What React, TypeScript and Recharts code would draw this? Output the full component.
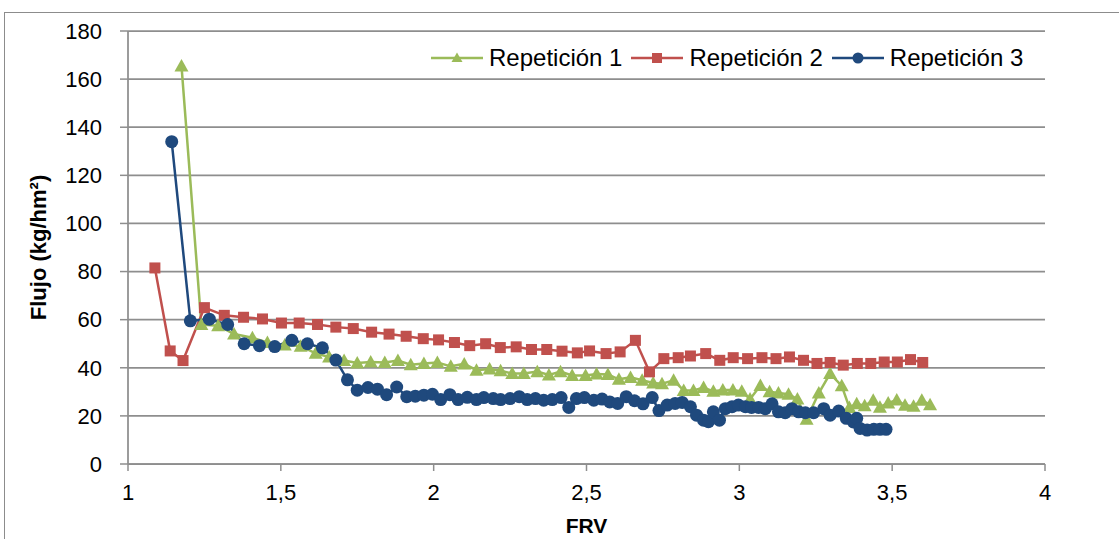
import { LineChart, Line, XAxis, YAxis, CartesianGrid, Legend } from 'recharts';

// Repetición 1 (green, triangles)
const rep1X = [
  1.175, 1.24, 1.295, 1.347, 1.407, 1.456, 1.513, 1.565, 1.614, 1.658, 1.707, 1.75, 1.794, 1.84,
  1.883, 1.925, 1.968, 2.012, 2.056, 2.1, 2.14, 2.183, 2.219, 2.257, 2.295, 2.339, 2.377, 2.415,
  2.453, 2.497, 2.533, 2.57, 2.606, 2.644, 2.682, 2.718, 2.747, 2.785, 2.818, 2.85, 2.883, 2.915,
  2.946, 2.979, 3.008, 3.035, 3.069, 3.099, 3.128, 3.161, 3.19, 3.22, 3.26, 3.297, 3.335, 3.36,
  3.384, 3.41, 3.438, 3.46, 3.487, 3.515, 3.542, 3.57, 3.597, 3.624,
];
const rep1Y = [
  165.5, 58, 57.5, 54, 52.5, 50.5, 49.5, 49, 46, 44.5, 43, 42, 42.4, 42.2,
  43, 41.3, 41.8, 42.2, 40.6, 41.6, 39, 39.5, 38.8, 37.6, 37.6, 38.4, 37, 38.4,
  36.8, 36.8, 37.4, 37.2, 35.2, 36, 34.8, 33.7, 33.4, 34.8, 30.6, 30.6, 31.8, 30.2,
  30.8, 30.8, 30.2, 27, 32.6, 30, 29.5, 29, 27, 18.6, 29.5, 37.6, 32.5, 23.5,
  25, 24.2, 26.5, 23.6, 25.4, 26.6, 24.4, 24, 26.5, 24.6,
];

// Repetición 2 (red, squares)
const rep2X = [
  1.088, 1.138, 1.18, 1.25, 1.315, 1.378, 1.44, 1.502, 1.56, 1.62, 1.68, 1.737, 1.797, 1.854,
  1.91, 1.966, 2.016, 2.068, 2.118, 2.17, 2.218, 2.27, 2.32, 2.37, 2.42, 2.47, 2.51, 2.564,
  2.61, 2.66, 2.706, 2.753, 2.8, 2.84, 2.89, 2.936, 2.98, 3.027, 3.074, 3.12, 3.164, 3.21,
  3.254, 3.297, 3.34, 3.386, 3.43, 3.474, 3.517, 3.56, 3.6,
];
const rep2Y = [
  81.5, 47, 43, 65, 61.8, 61, 60.3, 58.6, 58.6, 58, 56.9, 56.3, 54.8, 54,
  53.1, 52.1, 51.6, 50.5, 49.2, 50, 48.4, 48.7, 47.6, 47.6, 46.9, 46.2, 47, 45.9,
  46.6, 51.4, 38.3, 43.8, 44.2, 44.9, 45.9, 43.1, 44.2, 43.8, 44.2, 43.8, 44.5, 43.1,
  41.8, 42.2, 41.1, 41.8, 41.8, 42.4, 42.4, 43.4, 42.2,
];

// Repetición 3 (blue, circles)
const rep3X = [
  1.143, 1.204, 1.266, 1.326, 1.38, 1.43, 1.48, 1.536, 1.587, 1.636, 1.68, 1.718, 1.75, 1.785,
  1.816, 1.846, 1.879, 1.912, 1.94, 1.968, 1.996, 2.023, 2.053, 2.08, 2.11, 2.14, 2.164, 2.195,
  2.219, 2.25, 2.28, 2.306, 2.333, 2.36, 2.388, 2.417, 2.442, 2.467, 2.493, 2.524, 2.551, 2.576,
  2.602, 2.63, 2.657, 2.685, 2.715, 2.737, 2.764, 2.79, 2.813, 2.84, 2.86, 2.883, 2.899, 2.915,
  2.935, 2.954, 2.976, 2.997, 3.02, 3.04, 3.063, 3.085, 3.107, 3.128, 3.15, 3.172, 3.194, 3.216,
  3.243, 3.276, 3.297, 3.325, 3.35, 3.373, 3.384, 3.395, 3.418, 3.44, 3.46, 3.48,
];
const rep3Y = [
  134, 59.5, 60.2, 58, 50, 49.2, 48.8, 51.4, 50, 48.3, 43.2, 35, 30.7, 31.8,
  31.1, 28.8, 32, 28, 28.2, 28.6, 29, 26.8, 28.8, 26.8, 27.7, 26.8, 27.6, 27.2,
  26.8, 27.2, 28, 26.8, 27.2, 26.5, 26.8, 27.6, 23.5, 27.2, 27.6, 26.5, 27, 25.8,
  25.2, 28, 26.3, 25, 27.6, 22.2, 24.5, 25.2, 25.6, 23.8, 20.3, 18.2, 17.6, 21.7,
  18.2, 23, 23.8, 24.5, 23.8, 23.5, 23.5, 23, 25, 21.7, 21.3, 23, 21.7, 21.3,
  21.3, 23, 20.3, 22, 19, 17.5, 19, 14.8, 14.1, 14.4, 14.4, 14.4,
];

const seriesNames = ['Repetición 1', 'Repetición 2', 'Repetición 3'];
const xTicks = [1, 1.5, 2, 2.5, 3, 3.5, 4];
const yTicks = [0, 20, 40, 60, 80, 100, 120, 140, 160, 180];

const GREEN = '#9BBB59';
const RED = '#C0504D';
const BLUE = '#1F497D';
const GRID = '#8e8e8e';
const FONT = "'Liberation Sans', Arial, sans-serif";

const toPoints = (xs: number[], ys: number[]) => xs.map((x, i) => ({ x, y: ys[i] }));
const rep1 = toPoints(rep1X, rep1Y);
const rep2 = toPoints(rep2X, rep2Y);
const rep3 = toPoints(rep3X, rep3Y);

type Marker = 'triangle' | 'square' | 'circle';

function markerShape(kind: Marker, cx: number, cy: number, color: string, key?: string | number) {
  if (kind === 'triangle') {
    return (
      <polygon
        key={key}
        points={`${cx},${cy - 7} ${cx + 7},${cy + 5.5} ${cx - 7},${cy + 5.5}`}
        fill={color}
      />
    );
  }
  if (kind === 'square') {
    return <rect key={key} x={cx - 5.5} y={cy - 5.5} width={11} height={11} fill={color} />;
  }
  return <circle key={key} cx={cx} cy={cy} r={6.5} fill={color} />;
}

const makeDot = (kind: Marker, color: string) => (props: any) => {
  const { cx, cy, index } = props;
  if (cx == null || cy == null) return <g key={`e-${index}`} />;
  return markerShape(kind, cx, cy, color, `${kind}-${index}`);
};

const legendItems: { name: string; color: string; kind: Marker }[] = [
  { name: seriesNames[0], color: GREEN, kind: 'triangle' },
  { name: seriesNames[1], color: RED, kind: 'square' },
  { name: seriesNames[2], color: BLUE, kind: 'circle' },
];

function LegendContent() {
  return (
    <div style={{ display: 'flex', alignItems: 'center', fontFamily: FONT, fontSize: 24, color: '#000' }}>
      {legendItems.map((it) => (
        <div key={it.name} style={{ display: 'flex', alignItems: 'center', marginRight: 9 }}>
          <svg width={52} height={20}>
            <line x1={0} y1={10} x2={52} y2={10} stroke={it.color} strokeWidth={2.5} />
            {it.kind === 'triangle' && <polygon points="26,4.5 31.5,14 20.5,14" fill={it.color} />}
            {it.kind === 'square' && <rect x={21} y={5} width={10} height={10} fill={it.color} />}
            {it.kind === 'circle' && <circle cx={26} cy={10} r={5.5} fill={it.color} />}
          </svg>
          <span style={{ marginLeft: 6, whiteSpace: 'nowrap' }}>{it.name}</span>
        </div>
      ))}
    </div>
  );
}

export default function App() {
  return (
    <div
      style={{
        position: 'absolute',
        left: 0,
        top: 0,
        width: 1119,
        height: 539,
        background: '#fff',
        overflow: 'hidden',
      }}
    >
      <div
        style={{
          position: 'absolute',
          left: 4,
          top: 12,
          width: 1200,
          height: 600,
          border: '1px solid #8c8c8c',
        }}
      />
      <div style={{ position: 'absolute', left: 0, top: 0 }}>
        <LineChart width={1119} height={539} margin={{ top: 31, right: 74, left: 68, bottom: 5 }}>
          <CartesianGrid vertical={false} stroke={GRID} strokeWidth={1.75} />
          <XAxis
            type="number"
            dataKey="x"
            domain={[1, 4]}
            ticks={xTicks}
            allowDataOverflow
            height={70}
            tickSize={7}
            tickMargin={13}
            tickLine={{ stroke: GRID, strokeWidth: 1.5 }}
            axisLine={{ stroke: GRID, strokeWidth: 1.75 }}
            tick={{ fill: '#000', fontSize: 22, fontFamily: FONT }}
            tickFormatter={(v: number) => String(v).replace('.', ',')}
            label={{
              value: 'FRV',
              position: 'insideBottom',
              offset: 1,
              fill: '#000',
              fontSize: 21,
              fontWeight: 'bold',
              fontFamily: FONT,
            }}
          />
          <YAxis
            type="number"
            domain={[0, 180]}
            ticks={yTicks}
            width={60}
            tickSize={8}
            tickMargin={18}
            tickLine={{ stroke: GRID, strokeWidth: 1.5 }}
            axisLine={{ stroke: GRID, strokeWidth: 1.75 }}
            tick={{ fill: '#000', fontSize: 22, fontFamily: FONT }}
            label={{
              value: 'Flujo (kg/hm²)',
              angle: -90,
              position: 'center',
              dx: -60,
              fill: '#000',
              fontSize: 22,
              fontWeight: 'bold',
              fontFamily: FONT,
            }}
          />
          <Legend
            layout="horizontal"
            verticalAlign="middle"
            align="center"
            content={<LegendContent />}
            wrapperStyle={{ top: 44, left: 431, width: 'auto' }}
          />
          <Line
            data={rep1}
            dataKey="y"
            name={seriesNames[0]}
            stroke={GREEN}
            strokeWidth={2.5}
            dot={makeDot('triangle', GREEN)}
            activeDot={false}
            isAnimationActive={false}
          />
          <Line
            data={rep2}
            dataKey="y"
            name={seriesNames[1]}
            stroke={RED}
            strokeWidth={2.5}
            dot={makeDot('square', RED)}
            activeDot={false}
            isAnimationActive={false}
          />
          <Line
            data={rep3}
            dataKey="y"
            name={seriesNames[2]}
            stroke={BLUE}
            strokeWidth={2.5}
            dot={makeDot('circle', BLUE)}
            activeDot={false}
            isAnimationActive={false}
          />
        </LineChart>
      </div>
    </div>
  );
}
